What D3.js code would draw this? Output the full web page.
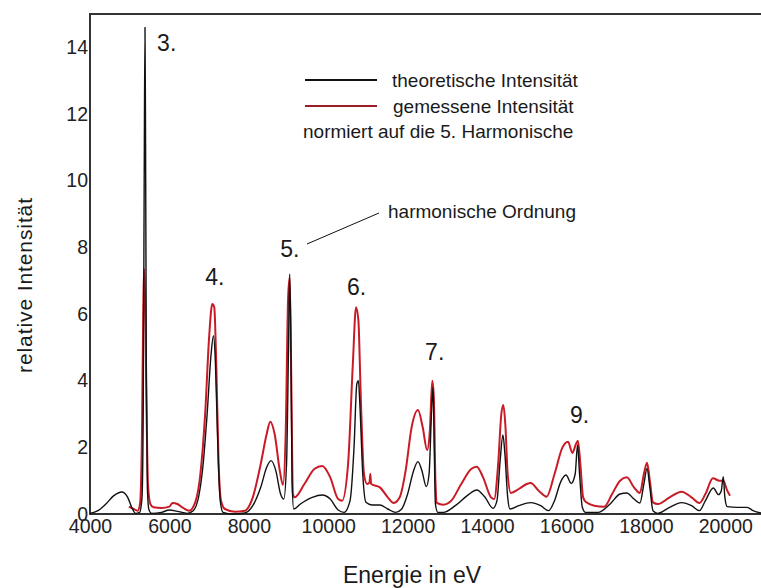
<!DOCTYPE html>
<html>
<head>
<meta charset="utf-8">
<script src="https://cdn.jsdelivr.net/npm/d3@7"></script>
<style>
  body { margin: 0; background: #fff; }
  text { font-family: "Liberation Sans", Arial, sans-serif; fill: #1a1a1a; }
</style>
</head>
<body>
<div id="chart"></div>
<script>
// x / y tick values
var xTicks = [4000, 6000, 8000, 10000, 12000, 14000, 16000, 18000, 20000];
var yTicks = [0, 2, 4, 6, 8, 10, 12, 14];

// theoretische Intensitaet (energy in eV, intensity)
var theoE = [4000, 4200, 4400, 4600, 4800, 4950, 5050, 5150, 5250, 5310, 5340, 5365, 5385, 5400, 5420, 5445, 5480, 5550,
  5800, 6000, 6200, 6450, 6600, 6750, 6850, 6950, 7050, 7110, 7160, 7220, 7280, 7350, 7600, 7900,
  8100, 8300, 8450, 8560, 8680, 8800, 8880, 8950, 9000, 9030, 9060, 9090, 9130, 9300, 9600, 9850,
  10050, 10250, 10400, 10550, 10650, 10720, 10760, 10800, 10870, 10950, 11100, 11300, 11500, 11700, 11850,
  12000, 12150, 12260, 12360, 12470, 12540, 12600, 12640, 12670, 12700, 12760, 12900, 13200, 13500, 13740, 13950,
  14150, 14250, 14330, 14400, 14450, 14520, 14580, 14800, 15100, 15350, 15550, 15700, 15850, 15990,
  16120, 16220, 16280, 16330, 16400, 16480, 16800, 17100, 17350, 17520, 17700, 17850, 17950, 18030,
  18100, 18180, 18300, 18600, 18900, 19150, 19350, 19500, 19700, 19830, 19900, 19950, 19990, 20050,
  20300, 20550, 20700, 20900];
var theoI = [0.02, 0.1, 0.3, 0.55, 0.66, 0.5, 0.2, 0.02, 0.05, 0.5, 3, 10, 14.6, 11, 4, 0.8, 0.15, 0.02,
  0.05, 0.12, 0.08, 0.02, 0.1, 0.6, 1.5, 3, 4.8, 5.35, 4.5, 2, 0.4, 0.05, 0.0, 0.03,
  0.25, 0.8, 1.4, 1.6, 1.3, 0.6, 0.45, 1.5, 5, 7.2, 5, 1, 0.15, 0.3, 0.5, 0.57,
  0.45, 0.12, 0.05, 0.4, 2, 3.9, 4, 3.2, 1.2, 0.35, 0.27, 0.27, 0.15, 0.05, 0.15,
  0.6, 1.3, 1.57, 1.3, 0.82, 1.2, 3, 3.8, 2, 0.3, 0.05, 0.05, 0.25, 0.55, 0.72, 0.5,
  0.17, 0.4, 1.6, 2.37, 1.8, 0.5, 0.15, 0.25, 0.34, 0.25, 0.1, 0.4, 0.95, 1.17,
  0.92, 1.2, 2.07, 1.2, 0.2, 0.05, 0.05, 0.3, 0.6, 0.63, 0.45, 0.33, 0.9, 1.37,
  0.8, 0.1, 0.02, 0.2, 0.34, 0.25, 0.1, 0.4, 0.78, 0.58, 0.7, 1.12, 0.5, 0.22,
  0.2, 0.2, 0.1, 0.03];

// gemessene Intensitaet
var measE = [4980, 5100, 5200, 5260, 5310, 5340, 5360, 5390, 5420, 5460, 5520, 5600, 5800, 6000, 6080, 6200, 6350, 6500,
  6650, 6780, 6900, 7000, 7080, 7130, 7180, 7240, 7300, 7400, 7650, 7900, 8100, 8300, 8450, 8540, 8650, 8780, 8860,
  8930, 8990, 9030, 9070, 9110, 9150, 9400, 9650, 9850, 10050, 10250, 10350, 10500, 10620, 10700, 10760, 10820, 10900,
  10980, 11040, 11060, 11080, 11300, 11500, 11650, 11800, 11950, 12100, 12260, 12380, 12490, 12560, 12620, 12660, 12700,
  12740, 12900, 13100, 13350, 13600, 13740, 13900, 14100, 14180, 14280, 14360, 14410, 14460, 14520, 14600, 14800, 15000,
  15100, 15300, 15500, 15700, 15900, 16040, 16150, 16240, 16290, 16350, 16420, 16500, 16700, 16950, 17150, 17350, 17520,
  17700, 17850, 17950, 18030, 18100, 18180, 18300, 18600, 18900, 19150, 19350, 19500, 19690, 19850, 19950, 20050, 20120];
var measI = [0.22, 0.15, 0.1, 0.3, 2.5, 6, 7.35, 6.3, 3.5, 0.9, 0.3, 0.2, 0.18, 0.22, 0.33, 0.3, 0.18, 0.1,
  0.35, 1.2, 3, 5.3, 6.3, 6.2, 4.5, 1.5, 0.4, 0.15, 0.07, 0.1, 0.5, 1.5, 2.4, 2.77, 2.4, 1.3, 0.87,
  2.5, 6.5, 7.1, 4, 0.6, 0.5, 0.9, 1.35, 1.44, 1.1, 0.45, 0.4, 1.5, 4.5, 6.2, 5.8, 3.5, 1.2,
  0.9, 0.95, 1.2, 0.9, 0.8, 0.5, 0.33, 0.5, 1.3, 2.6, 3.12, 2.6, 1.92, 2.5, 4.0, 3.5, 1,
  0.33, 0.28, 0.4, 0.9, 1.35, 1.42, 1.1, 0.5, 0.45, 1.5, 3.0, 3.27, 2.7, 1.2, 0.63, 0.75, 0.9,
  0.93, 0.7, 0.52, 1.2, 2.0, 2.17, 1.83, 2.1, 2.2, 1.5, 0.5, 0.35, 0.25, 0.22, 0.6, 1.0, 1.1,
  0.8, 0.63, 1.2, 1.54, 1.0, 0.35, 0.3, 0.5, 0.67, 0.5, 0.33, 0.6, 1.07, 1.0, 1.0, 0.7, 0.55];

// peak labels (harmonic order), placed in data coordinates
var peakLabels = ["3.", "4.", "5.", "6.", "7.", "9."];
var peakE = [5690, 6900, 8790, 10470, 12440, 16090];
var peakI = [13.9, 6.87, 7.71, 6.57, 4.62, 2.73];

var width = 761, height = 588;
var margin = {top: 14, left: 90, bottom: 74};

var svg = d3.select('#chart')
  .append('svg')
  .attr('width', width)
  .attr('height', height);

var x = d3.scaleLinear().domain([4000, 20900]).range([margin.left, width]);
var y = d3.scaleLinear().domain([0, 15]).range([height - margin.bottom, margin.top]);

var red = '#c81b26';

//axes
var xAxis = svg.append('g')
  .attr('transform', 'translate(0,' + y(0) + ')')
  .call(d3.axisBottom(x).tickValues(xTicks).tickSize(0).tickPadding(0).tickFormat(d3.format('d')));
xAxis.select('.domain').remove();
xAxis.selectAll('text')
  .attr('dy', '0.95em')
  .style('font-size', '19.5px')
  .style('font-family', '"Liberation Sans", Arial, sans-serif')
  .style('fill', '#222');

var yAxis = svg.append('g')
  .attr('transform', 'translate(' + (margin.left - 2) + ',0)')
  .call(d3.axisLeft(y).tickValues(yTicks).tickSize(0).tickPadding(0));
yAxis.select('.domain').remove();
yAxis.selectAll('text')
  .style('font-size', '19.5px')
  .style('font-family', '"Liberation Sans", Arial, sans-serif')
  .style('fill', '#222');

//frame: left, top, bottom
svg.append('path')
  .attr('d', 'M' + width + ',' + y(15) + 'H' + x(4000) + 'V' + y(0) + 'H' + width)
  .attr('fill', 'none')
  .attr('stroke', '#333')
  .attr('stroke-width', 2);

//lines
var line = d3.line()
  .x(function(d) { return x(d[0]); })
  .y(function(d) { return y(d[1]); })
  .curve(d3.curveMonotoneX);

svg.append('path')
  .datum(d3.zip(measE, measI))
  .attr('d', line)
  .attr('fill', 'none')
  .attr('stroke', red)
  .attr('stroke-width', 2)
  .attr('stroke-linejoin', 'round');

svg.append('path')
  .datum(d3.zip(theoE, theoI))
  .attr('d', line)
  .attr('fill', 'none')
  .attr('stroke', '#111')
  .attr('stroke-width', 1.4)
  .attr('stroke-linejoin', 'round');

//peak labels
svg.selectAll('.peak')
  .data(d3.zip(peakLabels, peakE, peakI))
  .enter()
  .append('text')
  .attr('class', 'peak')
  .attr('x', function(d) { return x(d[1]); })
  .attr('y', function(d) { return y(d[2]); })
  .style('font-size', '23px')
  .text(function(d) { return d[0]; });

//annotation
svg.append('line')
  .attr('x1', 307).attr('y1', 244)
  .attr('x2', 379).attr('y2', 213)
  .attr('stroke', '#111')
  .attr('stroke-width', 1);
svg.append('text')
  .attr('x', 388).attr('y', 218)
  .style('font-size', '19px')
  .text('harmonische Ordnung');

//legend
svg.append('line')
  .attr('x1', 305).attr('x2', 377).attr('y1', 80).attr('y2', 80)
  .attr('stroke', '#111').attr('stroke-width', 2);
svg.append('text')
  .attr('x', 392).attr('y', 87)
  .style('font-size', '19px')
  .text('theoretische Intensität');
svg.append('line')
  .attr('x1', 305).attr('x2', 377).attr('y1', 106).attr('y2', 106)
  .attr('stroke', '#9b1d26').attr('stroke-width', 2);
svg.append('text')
  .attr('x', 393).attr('y', 113)
  .style('font-size', '19px')
  .text('gemessene Intensität');
svg.append('text')
  .attr('x', 303).attr('y', 138)
  .style('font-size', '19px')
  .text('normiert auf die 5. Harmonische');

//axis titles
svg.append('text')
  .attr('text-anchor', 'middle')
  .attr('transform', 'translate(32,285) rotate(-90)')
  .style('font-size', '21px')
  .style('letter-spacing', '0.9px')
  .text('relative Intensität');
svg.append('text')
  .attr('text-anchor', 'middle')
  .attr('x', 412).attr('y', 583)
  .style('font-size', '23px')
  .text('Energie in eV');
</script>
</body>
</html>
